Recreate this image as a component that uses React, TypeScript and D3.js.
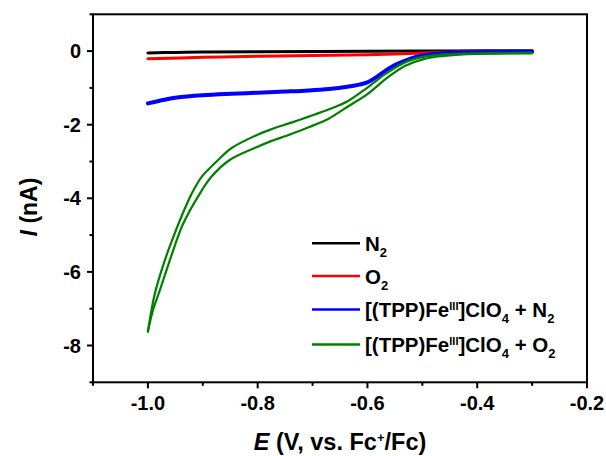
import React from "react";
import * as d3 from "d3";

// ---- data ----
const xMajorTicks = [-1.0, -0.8, -0.6, -0.4, -0.2];
const xMinorTicks = [-1.1, -0.9, -0.7, -0.5, -0.3];
const yMajorTicks = [0, -2, -4, -6, -8];
const yMinorTicks = [1, -1, -3, -5, -7, -9];

const n2E = [-1.0, -0.95, -0.9, -0.8, -0.6, -0.45, -0.3];
const n2I = [-0.05, -0.035, -0.025, -0.015, -0.005, 0.005, 0.01];

const o2E = [-1.0, -0.9, -0.8, -0.7, -0.6, -0.55, -0.5, -0.45, -0.4, -0.3];
const o2I = [-0.21, -0.17, -0.14, -0.12, -0.1, -0.08, -0.05, -0.03, -0.02, -0.01];

const feN2E = [-1.0, -0.97, -0.947, -0.9, -0.848, -0.8, -0.75, -0.707, -0.67, -0.637, -0.615, -0.6, -0.585, -0.567, -0.55, -0.531, -0.515, -0.496, -0.47, -0.426, -0.38, -0.3];
const feN2I = [-1.42, -1.32, -1.26, -1.2, -1.16, -1.13, -1.1, -1.07, -1.03, -0.97, -0.91, -0.85, -0.72, -0.53, -0.38, -0.26, -0.17, -0.11, -0.07, -0.04, -0.03, -0.02];

const feO2UpE = [-1.0, -0.993, -0.987, -0.975, -0.96, -0.939, -0.921, -0.902, -0.872, -0.848, -0.8, -0.778, -0.74, -0.707, -0.67, -0.637, -0.6, -0.567, -0.531, -0.496, -0.46, -0.426, -0.38, -0.3];
const feO2UpI = [-7.62, -7.0, -6.57, -5.95, -5.3, -4.5, -3.9, -3.42, -2.96, -2.64, -2.27, -2.14, -1.95, -1.78, -1.58, -1.37, -0.99, -0.62, -0.3, -0.15, -0.09, -0.07, -0.06, -0.05];

const feO2LoE = [-1.0, -0.99, -0.981, -0.972, -0.957, -0.936, -0.909, -0.884, -0.851, -0.8, -0.778, -0.74, -0.707, -0.67, -0.637, -0.6, -0.567, -0.531, -0.496, -0.46, -0.426, -0.38, -0.3];
const feO2LoI = [-7.62, -7.0, -6.62, -6.22, -5.55, -4.7, -3.96, -3.41, -2.96, -2.6, -2.46, -2.26, -2.07, -1.83, -1.52, -1.17, -0.76, -0.4, -0.21, -0.13, -0.09, -0.07, -0.06];

const FONT = "Arial, 'Liberation Sans', Helvetica, sans-serif";

export default function App() {
  const W = 606, H = 456;
  const left = 93, right = 587, top = 14.3, bottom = 382.3;
  const x = d3.scaleLinear().domain([-1.1, -0.2]).range([left, right]);
  const y = d3.scaleLinear().domain([-9, 1]).range([bottom, top]);

  const line = d3
    .line<[number, number]>()
    .x((d) => x(d[0]))
    .y((d) => y(d[1]))
    .curve(d3.curveCatmullRom.alpha(0.5));
  const zip = (a: number[], b: number[]) => a.map((v, i) => [v, b[i]] as [number, number]);

  const series = [
    { d: line(zip(n2E, n2I)), c: "#000000", w: 3 },
    { d: line(zip(o2E, o2I)), c: "#ff0000", w: 3 },
    { d: line(zip(feN2E, feN2I)), c: "#0000ff", w: 4 },
    { d: line(zip(feO2UpE, feO2UpI)), c: "#008000", w: 2.2 },
    { d: line(zip(feO2LoE, feO2LoI)), c: "#008000", w: 2.2 },
  ];

  const legendX0 = 312, legendX1 = 360, textX = 365;
  const legendY = [243.3, 276, 309.5, 344.5];
  const legendColors = ["#000000", "#ff0000", "#0000ff", "#008000"];
  const fs = 20;
  const lfs = 20.5;
  const sub = { fontSize: 13 };

  return (
    <svg
      width={W}
      height={H}
      style={{ position: "absolute", left: 0, top: 0, background: "#fff" }}
      fontFamily={FONT}
    >
      <rect x={0} y={0} width={W} height={H} fill="#fff" />
      {/* frame */}
      <rect x={left} y={top} width={right - left} height={bottom - top} fill="none" stroke="#000" strokeWidth={2} />

      {/* x ticks */}
      {xMajorTicks.map((t) => (
        <g key={"xm" + t}>
          <line x1={x(t)} x2={x(t)} y1={bottom} y2={bottom + 6} stroke="#000" strokeWidth={2} />
          <text x={x(t)} y={409.5} textAnchor="middle" fontSize={fs} fontWeight="bold">
            {t.toFixed(1)}
          </text>
        </g>
      ))}
      {xMinorTicks.map((t) => (
        <line key={"xn" + t} x1={x(t)} x2={x(t)} y1={bottom} y2={bottom + 3.5} stroke="#000" strokeWidth={2} />
      ))}
      {/* y ticks */}
      {yMajorTicks.map((t) => (
        <g key={"ym" + t}>
          <line x1={left} x2={left - 6} y1={y(t)} y2={y(t)} stroke="#000" strokeWidth={2} />
          <text x={81} y={y(t) + 7} textAnchor="end" fontSize={fs} fontWeight="bold">
            {t === 0 ? "0" : String(t)}
          </text>
        </g>
      ))}
      {yMinorTicks.map((t) => (
        <line key={"yn" + t} x1={left} x2={left - 3.5} y1={y(t)} y2={y(t)} stroke="#000" strokeWidth={2} />
      ))}

      {/* series */}
      {series.map((s, i) => (
        <path key={i} d={s.d || ""} fill="none" stroke={s.c} strokeWidth={s.w} strokeLinejoin="round" strokeLinecap="round" />
      ))}

      {/* legend */}
      {legendColors.map((c, i) => (
        <line key={"lg" + i} x1={legendX0} x2={legendX1} y1={legendY[i]} y2={legendY[i]} stroke={c} strokeWidth={2.5} />
      ))}
      <g fontSize={lfs} fontWeight="bold">
        <text x={textX} y={legendY[0] + 7.5}>
          N<tspan dy={6} style={sub}>2</tspan>
        </text>
        <text x={textX} y={legendY[1] + 7.5}>
          O<tspan dy={6} style={sub}>2</tspan>
        </text>
        <text x={textX} y={legendY[2] + 7.5}>
          [(TPP)Fe<tspan dy={-7.5} fontSize={11}>III</tspan>
          <tspan dy={7.5}>]ClO</tspan>
          <tspan dy={6} style={sub}>4</tspan>
          <tspan dy={-6}> + N</tspan>
          <tspan dy={6} style={sub}>2</tspan>
        </text>
        <text x={textX} y={legendY[3] + 7.5}>
          [(TPP)Fe<tspan dy={-7.5} fontSize={11}>III</tspan>
          <tspan dy={7.5}>]ClO</tspan>
          <tspan dy={6} style={sub}>4</tspan>
          <tspan dy={-6}> + O</tspan>
          <tspan dy={6} style={sub}>2</tspan>
        </text>
      </g>

      {/* axis titles */}
      <text x={(left + right) / 2} y={449.5} textAnchor="middle" fontSize={23.5} fontWeight="bold">
        <tspan fontStyle="italic">E</tspan> (V, vs. Fc<tspan dy={-8} fontSize={13}>+</tspan>
        <tspan dy={8}>/Fc)</tspan>
      </text>
      <text
        transform={`translate(37,207) rotate(-90)`}
        textAnchor="middle"
        fontSize={23}
        fontWeight="bold"
      >
        <tspan fontStyle="italic">I</tspan> (nA)
      </text>
    </svg>
  );
}
